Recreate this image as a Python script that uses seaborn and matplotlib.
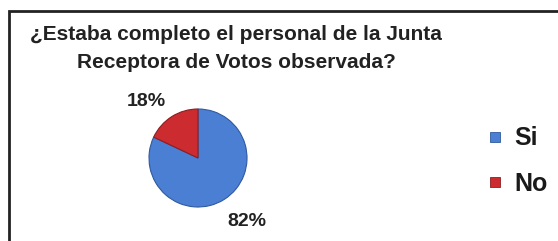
import matplotlib
matplotlib.use("Agg")
import matplotlib.pyplot as plt
import seaborn as sns
from matplotlib.patches import Rectangle
from matplotlib.lines import Line2D

categories = ["Si", "No"]
values = [82, 18]
pct_labels = ["82%", "18%"]
colors = ["#4a7fd3", "#cc2b2f"]
edge_colors = ["#2f5a9e", "#8e1d22"]
title_lines = ["¿Estaba completo el personal de la Junta", "Receptora de Votos observada?"]

sns.set_theme(style="white")
plt.rcParams['font.family'] = ['Liberation Sans', 'DejaVu Sans']

W, H = 558, 241
fig = plt.figure(figsize=(W / 100, H / 100), dpi=100)
fig.patch.set_facecolor("white")

# frame (only left and top visible in reference)
fig.patches.append(Rectangle((9 / W, -0.2), 2.0, (H - 11) / H + 0.2,
                             transform=fig.transFigure, fill=False,
                             lw=2, ec="#222222"))

cx, cy, half = 198, 158, 60
ax = fig.add_axes([(cx - half) / W, (H - cy - half) / H, 2 * half / W, 2 * half / H])
wedges, _ = ax.pie(values, colors=colors, startangle=90, counterclock=False,
                   radius=0.98, wedgeprops=dict(linewidth=0.8))
for w, ec in zip(wedges, edge_colors):
    w.set_edgecolor(ec)
ax.set_xlim(-1.2, 1.2)
ax.set_ylim(-1.2, 1.2)
ax.axis("off")

label_pos = [(0.98, -1.26), (-1.04, 1.12)]
for (x, y), t in zip(label_pos, pct_labels):
    ax.text(x, y, t, ha="center", va="center", fontsize=14, fontweight="bold",
            color="#222222", clip_on=False)

fig.text(236 / W, 1 - 34 / H, title_lines[0], ha="center", va="center",
         fontsize=15, fontweight="bold", color="#222222")
fig.text(236 / W, 1 - 63 / H, title_lines[1], ha="center", va="center",
         fontsize=15, fontweight="bold", color="#222222")

handles = [Line2D([], [], marker="s", linestyle="none", markersize=7.5,
                  markerfacecolor=c, markeredgecolor=ec, markeredgewidth=0.6)
           for c, ec in zip(colors, edge_colors)]
leg = fig.legend(handles, categories, loc="center left",
                 bbox_to_anchor=(487.5 / W, 1 - 161 / H), frameon=False,
                 prop=dict(size=18, weight="bold"), labelspacing=0.85,
                 handletextpad=0.46, handlelength=0.6, borderpad=0,
                 borderaxespad=0)
for t in leg.get_texts():
    t.set_color("#1a1a1a")

fig.savefig("out.png", dpi=100)
